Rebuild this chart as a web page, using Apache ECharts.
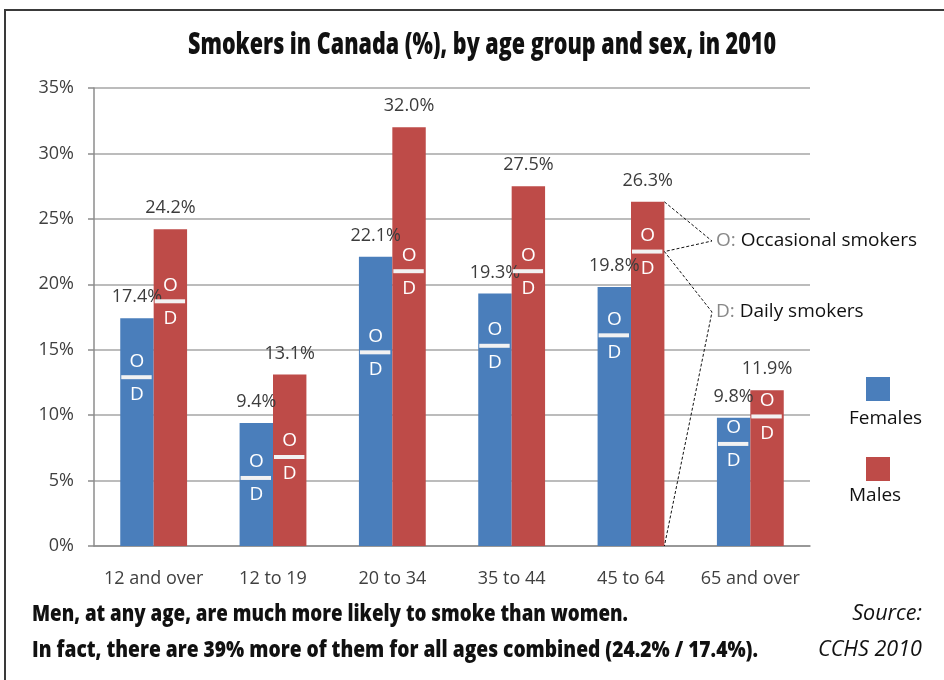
<!DOCTYPE html>
<html><head><meta charset="utf-8">
<script src="https://cdn.jsdelivr.net/npm/echarts@6/dist/echarts.min.js"></script>
<style>html,body{margin:0;padding:0;background:#fff}#c{width:944px;height:680px}</style>
</head><body><div id="c"></div>
<script>
// ---- data ----
const categories = ['12 and over', '12 to 19', '20 to 34', '35 to 44', '45 to 64', '65 and over'];
const femalesTotal = [17.4, 9.4, 22.1, 19.3, 19.8, 9.8];
const malesTotal = [24.2, 13.1, 32.0, 27.5, 26.3, 11.9];
const femalesDaily = [12.9, 5.2, 14.8, 15.3, 16.1, 7.8];
const malesDaily = [18.7, 6.8, 21.0, 21.0, 22.5, 9.9];
const annotatedIndex = 4; // 45 to 64, males

// ---- style ----
const BLUE = '#4A7EBB';
const RED = '#BE4B48';
const FONT = '"Open Sans", "DejaVu Sans", sans-serif';
const BAR_FRAC = 0.28;

const cnv = document.createElement('canvas').getContext('2d');
function fitScale(text, font, target) {
  cnv.font = font;
  return target / cnv.measureText(text).width;
}

function splitRender(side) {
  return function (params, api) {
    const i = api.value(0), v = api.value(1);
    const p = api.coord([i, v]);
    const band = api.size([1, 0])[0];
    const bw = band * BAR_FRAC;
    const cx = p[0] + side * bw / 2;
    return {
      type: 'group',
      children: [
        { type: 'rect', shape: { x: cx - bw / 2 + 1, y: p[1] - 2, width: bw - 3, height: 4 }, style: { fill: '#F2F2F2' } },
        { type: 'text', style: { text: 'O', x: cx, y: p[1] - 16, align: 'center', verticalAlign: 'middle', fill: '#fff', font: '19px ' + FONT } },
        { type: 'text', style: { text: 'D', x: cx, y: p[1] + 17, align: 'center', verticalAlign: 'middle', fill: '#fff', font: '19px ' + FONT } }
      ]
    };
  };
}

const O_ANCHOR = [712, 241];
const D_ANCHOR = [712, 312];
function annotRender(params, api) {
  const i = api.value(0);
  const top = api.coord([i, api.value(1)]);
  const split = api.coord([i, api.value(2)]);
  const base = api.coord([i, 0]);
  const band = api.size([1, 0])[0];
  const bw = band * BAR_FRAC;
  const rx = top[0] + bw;
  const st = { stroke: '#111', lineWidth: 1, lineDash: [3, 2], fill: null };
  return {
    type: 'group',
    children: [
      { type: 'polyline', shape: { points: [[rx, top[1]], O_ANCHOR, [rx, split[1]], D_ANCHOR, [rx, base[1]]] }, style: st }
    ]
  };
}

const titleText = 'Smokers in Canada (%), by age group and sex, in 2010';
const titleFont = '800 30px ' + FONT;
const note1 = 'Men, at any age, are much more likely to smoke than women.';
const note2 = 'In fact, there are 39% more of them for all ages combined (24.2% / 17.4%).';
const noteFont = '800 23px ' + FONT;
const srcFont = 'italic 21px ' + FONT;
const labelFont = '19px ' + FONT;

const chart = echarts.init(document.getElementById('c'));
chart.setOption({
  animation: false,
  grid: { left: 94, right: 134, top: 88, bottom: 134 },
  xAxis: {
    type: 'category',
    data: categories,
    axisLine: { lineStyle: { color: '#8C8C8C', width: 1.5 } },
    axisTick: { length: 6, lineStyle: { color: '#8C8C8C', width: 1.5 } },
    axisLabel: { color: '#404040', fontSize: 18, fontFamily: FONT, margin: 24, interval: 0, hideOverlap: false }
  },
  yAxis: {
    type: 'value', min: 0, max: 35, interval: 5,
    axisLine: { show: true, lineStyle: { color: '#8C8C8C', width: 1.5 } },
    axisTick: { show: true, length: 6, lineStyle: { color: '#8C8C8C', width: 1.5 } },
    splitLine: { lineStyle: { color: '#A6A6A6', width: 1.5 } },
    axisLabel: { color: '#404040', fontSize: 18, fontFamily: FONT, margin: 20, formatter: '{value}%' }
  },
  series: [
    {
      name: 'Females', type: 'bar', data: femalesTotal, barWidth: (BAR_FRAC * 100) + '%', barGap: '0%',
      itemStyle: { color: BLUE },
      label: { show: true, position: 'top', distance: 12, color: '#3C3C3C', fontSize: 18, fontFamily: FONT, formatter: p => p.value.toFixed(1) + '%' }
    },
    {
      name: 'Males', type: 'bar', data: malesTotal, barWidth: (BAR_FRAC * 100) + '%', barGap: '0%',
      itemStyle: { color: RED },
      label: { show: true, position: 'top', distance: 12, color: '#3C3C3C', fontSize: 18, fontFamily: FONT, formatter: p => p.value.toFixed(1) + '%' }
    },
    { type: 'custom', renderItem: splitRender(-1), data: femalesDaily.map((v, i) => [i, v]), z: 5, clip: false },
    { type: 'custom', renderItem: splitRender(1), data: malesDaily.map((v, i) => [i, v]), z: 5, clip: false },
    { type: 'custom', renderItem: annotRender, data: [[annotatedIndex, malesTotal[annotatedIndex], malesDaily[annotatedIndex]]], z: 6, clip: false }
  ],
  graphic: [
    { type: 'rect', shape: { x: 5, y: 10, width: 1000, height: 1000 }, style: { fill: null, stroke: '#3A3A3A', lineWidth: 2 } },
    { type: 'text', x: 482, y: 45, scaleX: fitScale(titleText, titleFont, 588), style: { text: titleText, font: titleFont, fill: '#111', align: 'center', verticalAlign: 'middle' } },
    { type: 'text', x: 716, y: 241, style: { text: '{g|O:} Occasional smokers', rich: { g: { fill: '#888', font: labelFont } }, font: labelFont, fill: '#111', verticalAlign: 'middle' } },
    { type: 'text', x: 716, y: 312, style: { text: '{g|D:} Daily smokers', rich: { g: { fill: '#888', font: labelFont } }, font: labelFont, fill: '#111', verticalAlign: 'middle' } },
    { type: 'rect', shape: { x: 866, y: 377, width: 24, height: 24 }, style: { fill: BLUE } },
    { type: 'text', x: 849, y: 419, style: { text: 'Females', font: labelFont, fill: '#111', verticalAlign: 'middle' } },
    { type: 'rect', shape: { x: 866, y: 457, width: 24, height: 24 }, style: { fill: RED } },
    { type: 'text', x: 849, y: 496, style: { text: 'Males', font: labelFont, fill: '#111', verticalAlign: 'middle' } },
    { type: 'text', x: 32, y: 614, scaleX: fitScale(note1, noteFont, 596), style: { text: note1, font: noteFont, fill: '#111', verticalAlign: 'middle' } },
    { type: 'text', x: 32, y: 650, scaleX: fitScale(note2, noteFont, 726), style: { text: note2, font: noteFont, fill: '#111', verticalAlign: 'middle' } },
    { type: 'text', x: 922, y: 614, scaleX: fitScale('CCHS 2010', srcFont, 104), style: { text: 'Source:', font: srcFont, fill: '#111', align: 'right', verticalAlign: 'middle' } },
    { type: 'text', x: 922, y: 650, scaleX: fitScale('CCHS 2010', srcFont, 104), style: { text: 'CCHS 2010', font: srcFont, fill: '#111', align: 'right', verticalAlign: 'middle' } }
  ]
});
</script>
</body></html>
